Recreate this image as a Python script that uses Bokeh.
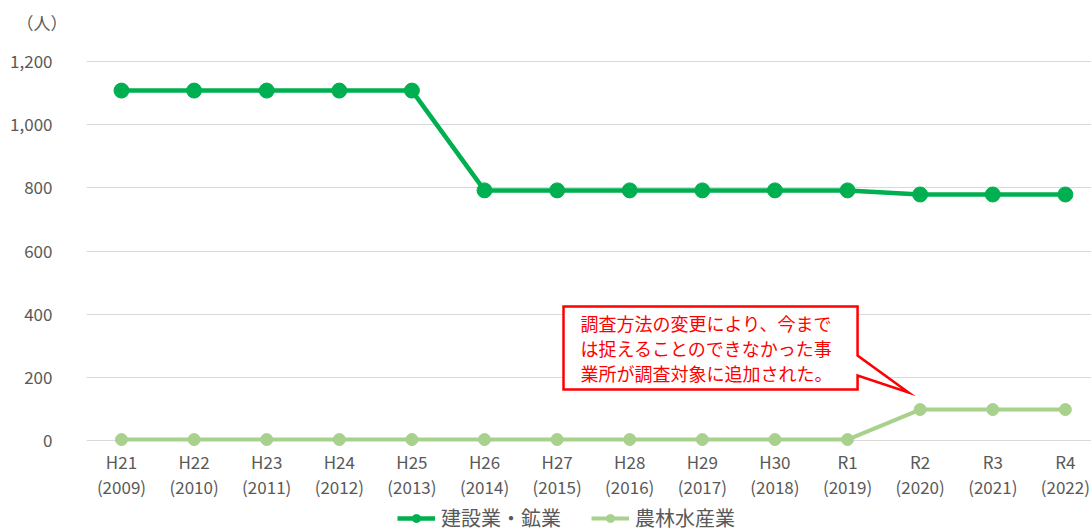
from bokeh.plotting import figure
from bokeh.models import (Range1d, FixedTicker, NumeralTickFormatter, Legend, LegendItem,
                          ColumnDataSource)
from bokeh.core.properties import value
from bokeh.embed import file_html
from bokeh.resources import INLINE

categories = ["H21", "H22", "H23", "H24", "H25", "H26", "H27", "H28", "H29", "H30", "R1", "R2", "R3", "R4"]
years = ["2009", "2010", "2011", "2012", "2013", "2014", "2015", "2016", "2017", "2018", "2019", "2020", "2021", "2022"]
construction = [1108, 1108, 1108, 1108, 1108, 792, 792, 792, 792, 792, 792, 779, 779, 779]
agriculture = [3, 3, 3, 3, 3, 3, 3, 3, 3, 3, 3, 98, 98, 98]
series_names = ["建設業・鉱業", "農林水産業"]
y_ticks = [0, 200, 400, 600, 800, 1000, 1200]
note = "調査方法の変更により、今まで\nは捉えることのできなかった事\n業所が調査対象に追加された。"

FONT = "Noto Sans CJK JP"
GREY = "#595959"
C1 = "#00B050"
C2 = "#A9D18E"

idx = list(range(len(categories)))
src = ColumnDataSource(dict(x=idx, c=construction, a=agriculture))

p = figure(frame_width=1005, frame_height=492, output_backend="svg", toolbar_location=None,
           x_range=Range1d(-0.482, 13.36), y_range=Range1d(-291.3, 1266.6),
           min_border_left=86, min_border_right=0, min_border_top=40, min_border_bottom=0)
p.outline_line_color = None
p.background_fill_color = "white"
p.border_fill_color = "white"

p.title.text = "（人）"
p.title.align = "left"
p.title.offset = -70
p.title.text_font = FONT
p.title.text_font_size = "17px"
p.title.text_font_style = "normal"
p.title.text_color = GREY
p.title.standoff = 11

p.xgrid.grid_line_color = None
p.ygrid.grid_line_color = "#D9D9D9"
p.ygrid.grid_line_width = 1
p.ygrid.ticker = FixedTicker(ticks=y_ticks)

p.yaxis.ticker = FixedTicker(ticks=y_ticks)
p.yaxis.formatter = NumeralTickFormatter(format="0,0")
p.xaxis.ticker = FixedTicker(ticks=idx)
p.xaxis.major_label_overrides = {i: f"{c}\n({y})" for i, c, y in zip(idx, categories, years)}
p.xaxis.fixed_location = -25.3
for ax in (p.xaxis, p.yaxis):
    ax.axis_line_color = None
    ax.major_tick_line_color = None
    ax.minor_tick_line_color = None
    ax.major_label_text_font = FONT
    ax.major_label_text_font_size = "17px"
    ax.major_label_text_color = GREY
p.yaxis.major_label_standoff = 28
p.xaxis.major_label_standoff = -5
p.xaxis.major_label_text_line_height = 1.0

l1 = p.line("x", "c", source=src, line_color=C1, line_width=4.5)
m1 = p.scatter("x", "c", source=src, size=15, fill_color=C1, line_color=C1)
l2 = p.line("x", "a", source=src, line_color=C2, line_width=4)
m2 = p.scatter("x", "a", source=src, size=12, fill_color=C2, line_color=C2)

# callout
cx = [6.088, 10.138, 10.138, 10.84, 10.138, 10.138, 6.088]
cy = [424.3, 424.3, 269.0, 152.0, 205.8, 161.5, 161.5]
p.patch(cx, cy, fill_color="white", line_color="#FF0000", line_width=2.5, line_join="miter")
p.text(x=[6.322], y=[414], text=[note], text_font=value(FONT), text_font_size="18px",
       text_color="#FF0000", text_baseline="top", text_align="left", text_line_height=0.96)

legend = Legend(items=[LegendItem(label=series_names[0], renderers=[l1, m1]),
                       LegendItem(label=series_names[1], renderers=[l2, m2])],
                orientation="horizontal", location=(311, 0),
                label_text_font=FONT, label_text_font_size="20px", label_text_color=GREY,
                glyph_width=38, label_standoff=6, spacing=30, padding=0, margin=0,
                border_line_color=None, background_fill_alpha=0)
p.add_layout(legend, "center")

open("out.html", "w").write(file_html(p, INLINE))
